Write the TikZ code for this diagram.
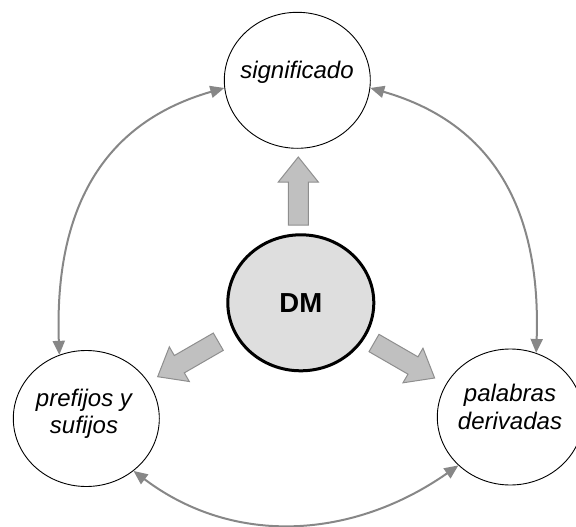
\documentclass[tikz,border=0pt]{standalone}
\usepackage{fontspec}
\setmainfont{Liberation Sans}
\usetikzlibrary{shapes.geometric,arrows.meta}
\definecolor{conncol}{HTML}{878787}
\definecolor{dmfill}{HTML}{DEDEDE}
\definecolor{blockfill}{HTML}{C0C0C0}
\definecolor{blockedge}{HTML}{8E8E8E}
\begin{document}
\begin{tikzpicture}[x=1pt,y=-1pt,
  bubble/.style={ellipse, draw=black, line width=0.9pt, fill=white, minimum width=146pt, minimum height=136pt, inner sep=0pt},
  core/.style={bubble, line width=3pt, fill=dmfill, font=\fontsize{27.5}{30}\selectfont\bfseries},
  lbl/.style={font=\fontsize{24}{27.4}\selectfont\itshape, align=center, inner sep=0pt},
  conn/.style={draw=conncol, line width=2pt, {Triangle[length=14pt,width=12pt]}-{Triangle[length=14pt,width=12pt]}},
  blockarrow/.style={draw=blockedge, fill=blockfill, line width=1pt, line join=miter}]
\useasboundingbox (0,0) rectangle (576,527);

% nodes
\node[bubble] (sig) at (297.3,80.3) {};
\node[lbl] (sigt) at (297,72) {significado};
\node[bubble] (pre) at (86.3,418.5) {};
\node[lbl] (pret) at (84,413.5) {prefijos y\\sufijos};
\node[bubble] (pal) at (510.3,417) {};
\node[lbl] (palt) at (510,407) {palabras\\derivadas};
\node[core] (dm) at (300.8,302.8) {DM};

% block arrows
\draw[blockarrow, shift={(298.3,225)}, rotate=90]
  (0,-10) -- (43,-10) -- (43,-20) -- (68,0) -- (43,20) -- (43,10) -- (0,10) -- cycle;
\draw[blockarrow, shift={(218.3,341.7)}, rotate=210]
  (0,-10) -- (45,-10) -- (45,-20) -- (70,0) -- (45,20) -- (45,10) -- (0,10) -- cycle;
\draw[blockarrow, shift={(374,343)}, rotate=-30]
  (0,-10) -- (45,-10) -- (45,-20) -- (70,0) -- (45,20) -- (45,10) -- (0,10) -- cycle;

% curved connectors
\draw[conn] (sig.186) to[out=196,in=92,looseness=1.1] (pre.113);
\draw[conn] (sig.354) to[out=-16,in=88,looseness=1.1] (pal.68);
\draw[conn] (pre.312) to[out=-37,in=215] (pal.223);
\end{tikzpicture}
\end{document}
